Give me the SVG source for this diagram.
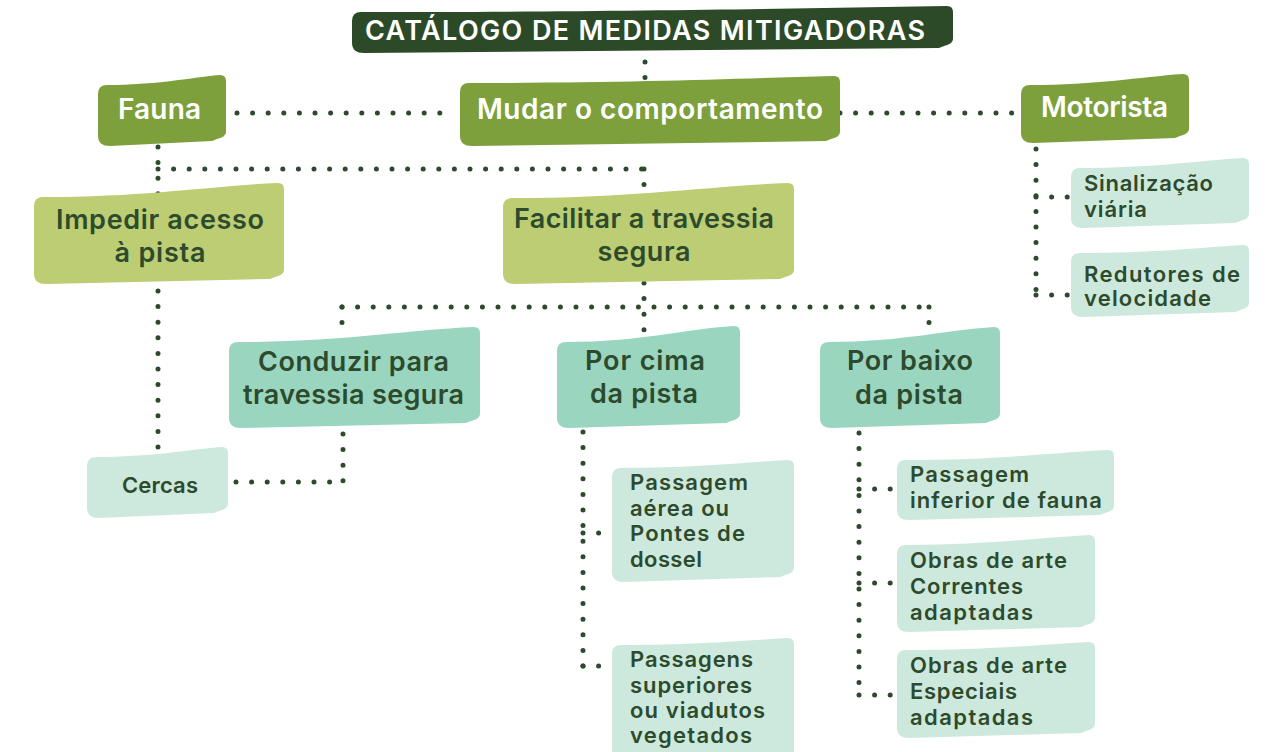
<svg xmlns="http://www.w3.org/2000/svg" width="1270" height="752" viewBox="0 0 1270 752">
<style>
.dot{stroke:#2d4b2c;stroke-width:5;stroke-linecap:round;stroke-dasharray:0 15.6;fill:none}
.t{font-family:Inter,"Open Sans","Liberation Sans",sans-serif;font-weight:600}
.title{fill:#2c4a28}
.l1{fill:#7d9f3c}
.l2{fill:#bccd74}
.l3{fill:#9ad5c0}
.l4{fill:#cde9dd}
.w{fill:#ffffff}
.g{fill:#2d4b2c}
.c{text-anchor:middle}
.s28{font-size:28px}
.s27{font-size:27px}
.s22{font-size:22px}
</style>
<rect width="1270" height="752" fill="#ffffff"/>
<g id="connectors">
<line class="dot" x1="645" y1="62" x2="645" y2="78"/>
<line class="dot" x1="237" y1="113" x2="448" y2="113"/>
<line class="dot" x1="840" y1="113" x2="1017" y2="113"/>
<line class="dot" x1="158" y1="147" x2="158" y2="195"/>
<line class="dot" x1="158" y1="169" x2="644" y2="169"/>
<line class="dot" x1="644" y1="169" x2="644" y2="185"/>
<line class="dot" x1="158" y1="291" x2="158" y2="452"/>
<line class="dot" x1="644" y1="283" x2="644" y2="335"/>
<line class="dot" x1="342" y1="307" x2="929" y2="307"/>
<line class="dot" x1="342" y1="307" x2="342" y2="338"/>
<line class="dot" x1="929" y1="307" x2="929" y2="338"/>
<line class="dot" x1="343" y1="434" x2="343" y2="482"/>
<line class="dot" x1="236" y1="482" x2="343" y2="482"/>
<line class="dot" x1="583" y1="432" x2="583" y2="666"/>
<line class="dot" x1="583" y1="533" x2="602" y2="533"/>
<line class="dot" x1="583" y1="666" x2="599" y2="666"/>
<line class="dot" x1="859" y1="433" x2="859" y2="695"/>
<line class="dot" x1="859" y1="489" x2="893" y2="489"/>
<line class="dot" x1="859" y1="583" x2="893" y2="583"/>
<line class="dot" x1="859" y1="695" x2="891" y2="695"/>
<line class="dot" x1="1036" y1="149" x2="1036" y2="295"/>
<line class="dot" x1="1036" y1="197" x2="1069" y2="197"/>
<line class="dot" x1="1036" y1="295" x2="1068" y2="295"/>
</g>
<g id="title">
<path class="title" d="M361 12 C622 12 773 9 947 6 Q953 6 953 12 L953 39 Q953 44 944 46 L939 48 L364 53 Q352 53 352 43 L352 21 Q352 12 361 12 Z"/>
<text class="t w c" x="645" y="40" font-size="27" font-weight="700" textLength="560">CATÁLOGO DE MEDIDAS MITIGADORAS</text>
</g>
<g id="fauna">
<path class="l1" d="M107 85 C156 85 188 78 220 75 Q226 75 226 81 L226 132 Q226 137 217 139 L212 141 L110 146 Q98 146 98 136 L98 94 Q98 85 107 85 Z"/>
<text class="t w c s28" x="159.5" y="119" textLength="83">Fauna</text>
</g>
<g id="mudar">
<path class="l1" d="M469 83 C631 83 726 79 834 76 Q840 76 840 82 L840 132 Q840 137 831 139 L826 141 L472 146 Q460 146 460 136 L460 92 Q460 83 469 83 Z"/>
<text class="t w c s28" x="650" y="119" textLength="346">Mudar o comportamento</text>
</g>
<g id="motorista">
<path class="l1" d="M1030 85 C1097 85 1139 77 1183 74 Q1189 74 1189 80 L1189 129 Q1189 134 1180 136 L1175 138 L1033 143 Q1021 143 1021 133 L1021 94 Q1021 85 1030 85 Z"/>
<text class="t w c s28" x="1104.5" y="117" textLength="127">Motorista</text>
</g>
<g id="impedir">
<path class="l2" d="M43 197 C146 197 209 186 278 183 Q284 183 284 189 L284 270 Q284 275 275 277 L270 279 L46 284 Q34 284 34 274 L34 206 Q34 197 43 197 Z"/>
<text class="t g c s27" x="160" y="229" textLength="208">Impedir acesso</text>
<text class="t g c s27" x="160" y="262" textLength="91">à pista</text>
</g>
<g id="facilitar">
<path class="l2" d="M512 198 C634 198 707 186 788 183 Q794 183 794 189 L794 270 Q794 275 785 277 L780 279 L515 284 Q503 284 503 274 L503 207 Q503 198 512 198 Z"/>
<text class="t g c s27" x="644" y="228" textLength="260">Facilitar a travessia</text>
<text class="t g c s27" x="644" y="261" textLength="93">segura</text>
</g>
<g id="conduzir">
<path class="l3" d="M238 342 C342 342 405 330 474 327 Q480 327 480 333 L480 414 Q480 419 471 421 L466 423 L241 428 Q229 428 229 418 L229 351 Q229 342 238 342 Z"/>
<text class="t g c s27" x="353.5" y="371" textLength="191">Conduzir para</text>
<text class="t g c s27" x="353.5" y="404" textLength="221">travessia segura</text>
</g>
<g id="por-cima">
<path class="l3" d="M566 342 C639 342 685 329 734 326 Q740 326 740 332 L740 414 Q740 419 731 421 L726 423 L569 428 Q557 428 557 418 L557 351 Q557 342 566 342 Z"/>
<text class="t g c s27" x="645" y="370" textLength="120">Por cima</text>
<text class="t g c s27" x="644" y="403" textLength="108">da pista</text>
</g>
<g id="por-baixo">
<path class="l3" d="M829 342 C901 342 946 330 994 327 Q1000 327 1000 333 L1000 414 Q1000 419 991 421 L986 423 L832 428 Q820 428 820 418 L820 351 Q820 342 829 342 Z"/>
<text class="t g c s27" x="910" y="370" textLength="126">Por baixo</text>
<text class="t g c s27" x="909" y="404" textLength="108">da pista</text>
</g>
<g id="cercas">
<path class="l4" d="M96 457 C150 457 186 450 222 447 Q228 447 228 453 L228 504 Q228 509 219 511 L214 513 L99 518 Q87 518 87 508 L87 466 Q87 457 96 457 Z"/>
<text class="t g c s22" x="160" y="493" textLength="76">Cercas</text>
</g>
<g id="sinalizacao">
<path class="l4" d="M1080 168 C1151 168 1196 161 1243 158 Q1249 158 1249 164 L1249 214 Q1249 219 1240 221 L1235 223 L1083 228 Q1071 228 1071 218 L1071 177 Q1071 168 1080 168 Z"/>
<text class="t g s22" x="1084" y="191" textLength="129">Sinalização</text>
<text class="t g s22" x="1084" y="217" textLength="63">viária</text>
</g>
<g id="redutores">
<path class="l4" d="M1080 253 C1151 253 1196 248 1243 245 Q1249 245 1249 251 L1249 303 Q1249 308 1240 310 L1235 312 L1083 317 Q1071 317 1071 307 L1071 262 Q1071 253 1080 253 Z"/>
<text class="t g s22" x="1084" y="282" textLength="156">Redutores de</text>
<text class="t g s22" x="1084" y="306" textLength="127">velocidade</text>
</g>
<g id="passagem-aerea">
<path class="l4" d="M621 468 C694 468 739 463 788 460 Q794 460 794 466 L794 568 Q794 573 785 575 L780 577 L624 582 Q612 582 612 572 L612 477 Q612 468 621 468 Z"/>
<text class="t g s22" x="630" y="490" textLength="118">Passagem</text>
<text class="t g s22" x="630" y="516" textLength="99">aérea ou</text>
<text class="t g s22" x="630" y="541" textLength="115">Pontes de</text>
<text class="t g s22" x="630" y="567" textLength="72">dossel</text>
</g>
<g id="passagens-superiores">
<path class="l4" d="M621 645 C694 645 739 641 788 638 Q794 638 794 644 L794 762 L612 762 L612 654 Q612 645 621 645 Z"/>
<text class="t g s22" x="630" y="667" textLength="123">Passagens</text>
<text class="t g s22" x="630" y="693" textLength="122">superiores</text>
<text class="t g s22" x="630" y="718" textLength="135">ou viadutos</text>
<text class="t g s22" x="630" y="743" textLength="122">vegetados</text>
</g>
<g id="passagem-inferior">
<path class="l4" d="M906 460 C995 460 1049 453 1108 450 Q1114 450 1114 456 L1114 506 Q1114 511 1105 513 L1100 515 L909 520 Q897 520 897 510 L897 469 Q897 460 906 460 Z"/>
<text class="t g s22" x="910" y="482" textLength="119">Passagem</text>
<text class="t g s22" x="910" y="508" textLength="192">inferior de fauna</text>
</g>
<g id="obras-correntes">
<path class="l4" d="M906 545 C986 545 1036 538 1089 535 Q1095 535 1095 541 L1095 618 Q1095 623 1086 625 L1081 627 L909 632 Q897 632 897 622 L897 554 Q897 545 906 545 Z"/>
<text class="t g s22" x="910" y="568" textLength="157">Obras de arte</text>
<text class="t g s22" x="910" y="594" textLength="113">Correntes</text>
<text class="t g s22" x="910" y="620" textLength="123">adaptadas</text>
</g>
<g id="obras-especiais">
<path class="l4" d="M906 650 C986 650 1036 645 1089 642 Q1095 642 1095 648 L1095 724 Q1095 729 1086 731 L1081 733 L909 738 Q897 738 897 728 L897 659 Q897 650 906 650 Z"/>
<text class="t g s22" x="910" y="673" textLength="157">Obras de arte</text>
<text class="t g s22" x="910" y="699" textLength="107">Especiais</text>
<text class="t g s22" x="910" y="725" textLength="123">adaptadas</text>
</g>
</svg>
